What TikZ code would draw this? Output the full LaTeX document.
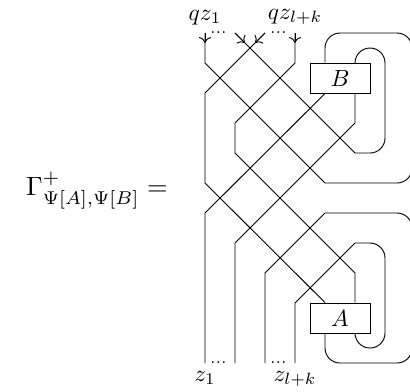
\documentclass[tikz,border=0pt]{standalone}
\usepackage{amsmath, amssymb}
\usetikzlibrary{arrows.meta, positioning}

\begin{document}
\begin{tikzpicture}[x=0.45cm, y=0.45cm,
  boxnode/.style={draw, fill=white, minimum width=0.9cm, minimum height=0.45cm, inner sep=0pt},
  cup/.style={rounded corners=0.225cm},
  dotsnode/.style={anchor=base, inner sep=0pt}]
  \useasboundingbox (-6.833,-6.433) rectangle (6.833,6.6);

  % boxes
  \node[boxnode] (B) at (4.5,4) {$B$};
  \node[boxnode] (A) at (4.5,-4) {$A$};
  \coordinate (Bnw) at (B.north -| 4,0);
  \coordinate (Bne) at (B.north -| 5,0);
  \coordinate (Bsw) at (B.south -| 4,0);
  \coordinate (Bse) at (B.south -| 5,0);
  \coordinate (Anw) at (A.north -| 4,0);
  \coordinate (Ane) at (A.north -| 5,0);
  \coordinate (Asw) at (A.south -| 4,0);
  \coordinate (Ase) at (A.south -| 5,0);

  % ends
  \foreach \i/\x in {1/0,2/1,3/2,4/3} {
    \coordinate (t\i) at (\x,5.5);
    \coordinate (b\i) at (\x,-5.5);
  }

  % strands from the top
  \draw (t1) -- (0,4.5) -- (4,0.5);
  \draw[cup] (4,0.5) -- (6.9,0.5) -- (6.9,5.5) -- (4,5.5) -- (Bnw);
  \draw (t2) -- (5,1.5);
  \draw[cup] (5,1.5) -- (6,1.5) -- (6,5) -- (5,5) -- (Bne);
  \draw (t3) -- (0,3.5) -- (0,0.5) -- (Anw);
  \draw (t4) -- (3,4.5) -- (1,2.5) -- (1,1.5) -- (5,-2.5) -- (Ane);

  % strands to the bottom
  \draw (Bsw) -- (0,-0.5) -- (b1);
  \draw (Bse) -- (5,2.5) -- (1,-1.5) -- (b2);
  \draw (b3) -- (2,-2.5) -- (4,-0.5);
  \draw[cup] (4,-0.5) -- (6.9,-0.5) -- (6.9,-5.5) -- (4,-5.5) -- (Asw);
  \draw (b4) -- (3,-3.5) -- (5,-1.5);
  \draw[cup] (5,-1.5) -- (6,-1.5) -- (6,-5) -- (5,-5) -- (Ase);

  % arrows
  \foreach \t/\dx in {t1/0, t2/0.33, t3/-0.33, t4/0}
    \draw[->] (\t) -- ++(\dx,-0.33);

  % labels
  \node[above] (qz1) at (t1) {$qz_1$};
  \node[above] (qzlk) at (t4) {$qz_{l+k}$};
  \node[below] (z1) at (b1) {$z_1$};
  \node[below] (zlk) at (b4) {$z_{l+k}$};
  \node[dotsnode] (tdots1) at (0.5,5.5) {$\scriptstyle\dots$};
  \node[dotsnode] (tdots2) at (2.5,5.5) {$\scriptstyle\dots$};
  \node[dotsnode] (bdots1) at (0.5,-5.52) {$\scriptstyle\dots$};
  \node[dotsnode] (bdots2) at (2.5,-5.52) {$\scriptstyle\dots$};
  \node[anchor=base east, inner sep=0pt] (lhs) at (-1.23,0.1)
    {\scalebox{1.13}{$\Gamma^+_{\Psi[A],\Psi[B]} =$}};
\end{tikzpicture}
\end{document}
